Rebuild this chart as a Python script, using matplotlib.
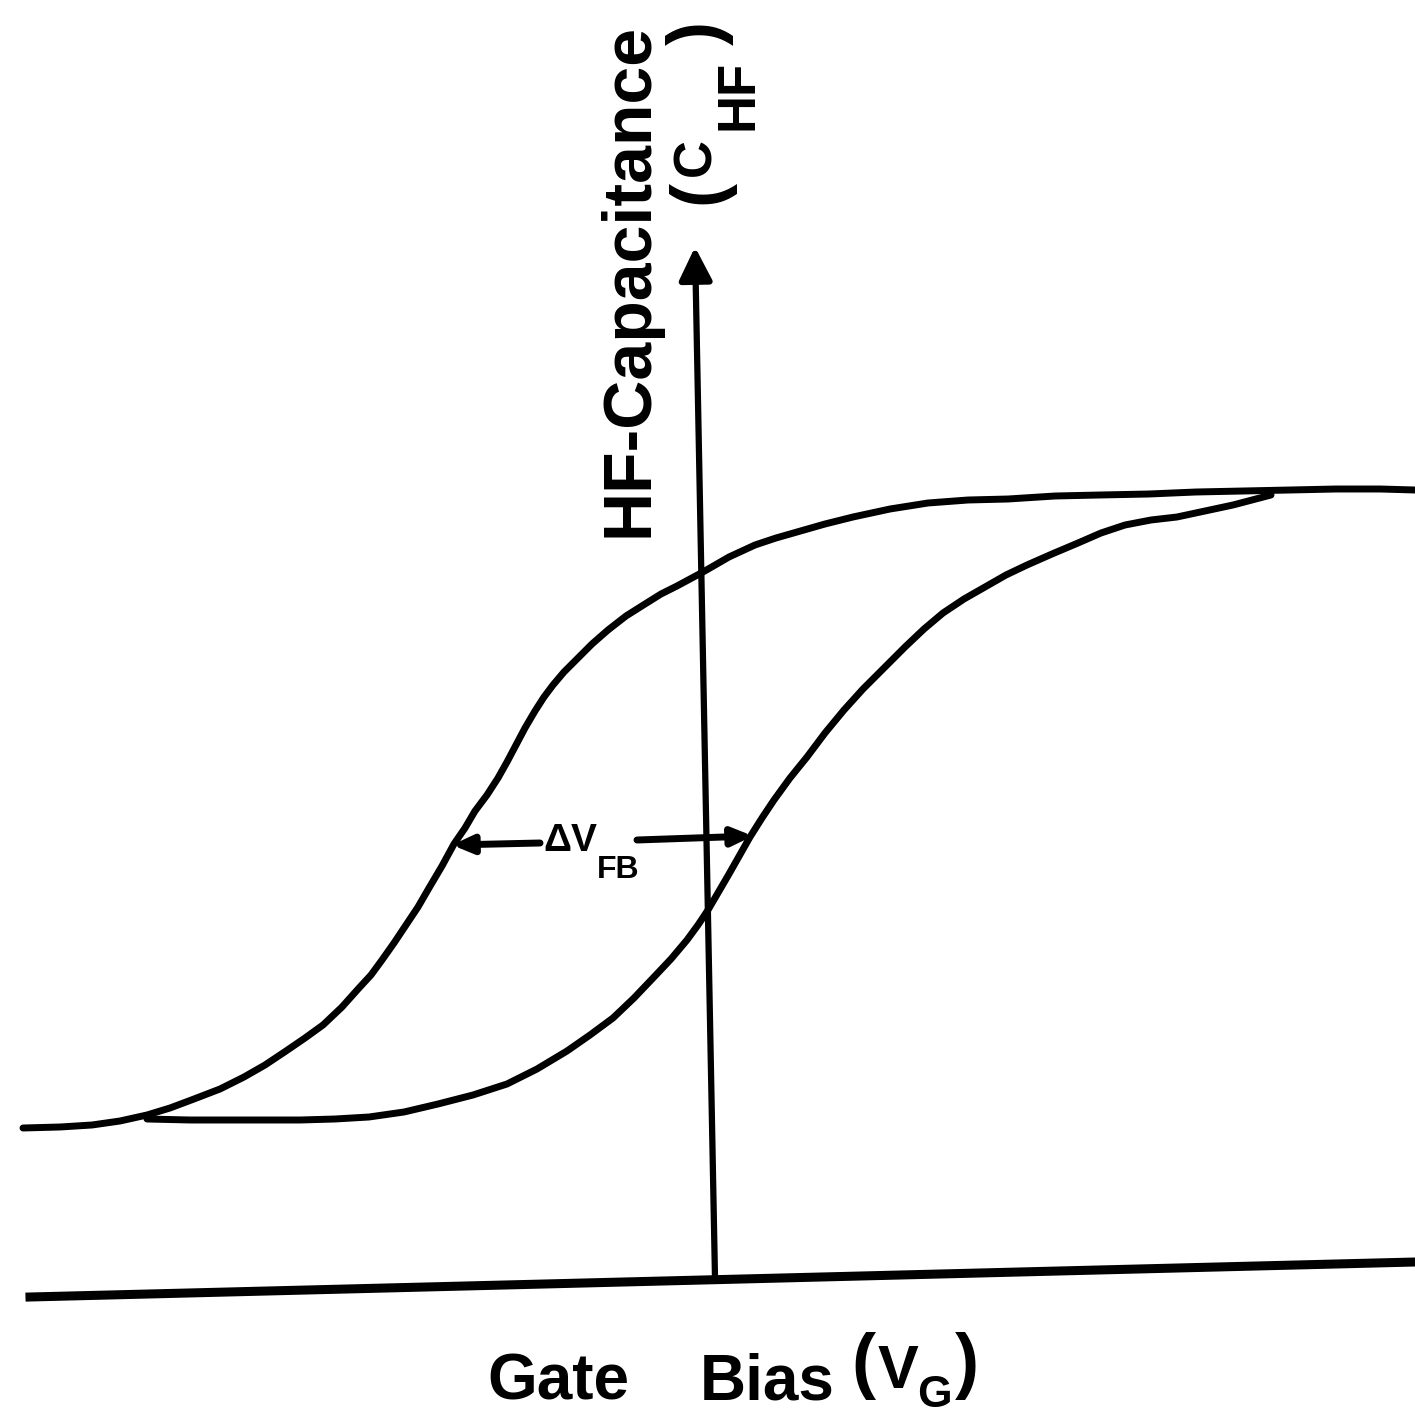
import matplotlib
matplotlib.use("Agg")
import matplotlib.pyplot as plt

# readings (arbitrary units, origin bottom-left)
forward_bias = [23, 60, 92, 120, 147, 170, 194, 220, 244, 265, 286, 305, 323, 342, 359, 371,
                382, 394, 406, 418, 429, 442, 454, 465, 475, 487, 498, 507, 516, 525, 535, 544,
                553, 564, 576, 592, 608, 626, 645, 661, 677, 690, 703, 729, 755, 776, 797, 825,
                853, 890, 928, 968, 1008, 1055, 1100, 1149, 1196, 1243, 1290, 1336, 1380, 1415]
forward_cap = [288, 289, 291, 295, 301, 308, 317, 327, 339, 351, 365, 378, 391, 409, 428, 441,
               456, 473, 491, 509, 528, 550, 572, 588, 605, 621, 638, 654, 671, 688, 705, 719,
               731, 744, 756, 772, 786, 800, 812, 822, 830, 837, 844, 859, 871, 878, 884, 892,
               899, 907, 913, 916, 917, 920, 921, 922, 924, 925, 926, 927, 927, 926]

reverse_bias = [147, 190, 230, 265, 300, 335, 369, 404, 438, 473, 507, 537, 567, 590, 613, 634,
                654, 671, 687, 698, 708, 729, 750, 762, 774, 790, 807, 825, 844, 863, 882, 905,
                924, 943, 964, 985, 1006, 1027, 1052, 1078, 1101, 1125, 1151, 1177, 1205, 1233,
                1252, 1271]
reverse_cap = [297, 296, 296, 296, 296, 297, 299, 304, 312, 321, 332, 347, 365, 381, 398, 418,
               439, 457, 476, 491, 506, 542, 579, 598, 616, 638, 659, 683, 706, 727, 746, 769,
               787, 803, 817, 829, 841, 851, 862, 873, 883, 891, 896, 899, 905, 911, 916, 921]

bias_axis_x = [30, 1415]
bias_axis_y = [119, 154]
cap_axis_x = [715, 695]
cap_axis_y = [138, 1169]

dvfb_left = [(540, 573), (452, 571)]
dvfb_right = [(637, 576), (753, 580)]

font = "Liberation Sans"

fig = plt.figure(figsize=(14.15, 14.16), dpi=100)
ax = fig.add_axes([0, 0, 1, 1])
ax.set_xlim(0, 1415)
ax.set_ylim(0, 1416)
ax.axis("off")

ax.plot(forward_bias, forward_cap, color="black", lw=5, solid_capstyle="round", solid_joinstyle="round")
ax.plot(reverse_bias, reverse_cap, color="black", lw=5, solid_capstyle="round", solid_joinstyle="round")

ax.plot(bias_axis_x, bias_axis_y, color="black", lw=6.5)
ax.annotate("", xy=(cap_axis_x[1], cap_axis_y[1]), xytext=(cap_axis_x[0], cap_axis_y[0]),
            arrowprops=dict(arrowstyle="-|>,head_length=0.5,head_width=0.25", mutation_scale=40,
                            lw=4.5, color="black", shrinkA=0, shrinkB=0))

for start, tip in [dvfb_left, dvfb_right]:
    ax.annotate("", xy=tip, xytext=start,
                arrowprops=dict(arrowstyle="-|>,head_length=0.5,head_width=0.22", mutation_scale=24,
                                lw=5, color="black", shrinkA=0, shrinkB=0))

ax.text(543, 565, "ΔV", fontsize=28, fontweight="bold", family=font, ha="left", va="baseline")
ax.text(597, 538, "FB", fontsize=23, fontweight="bold", family=font, ha="left", va="baseline")

# y label, reads bottom to top
rot = dict(rotation=90, rotation_mode="anchor", ha="left", va="baseline",
           fontweight="bold", family=font)
ax.text(648, 879, "HF-Capacitance", fontsize=49, **rot)
ax.text(719, 1212, "(", fontsize=52, **rot)
ax.text(710, 1240, "C", fontsize=38, **rot)
ax.text(753, 1286, "HF", fontsize=38, **rot)
ax.text(719, 1371, ")", fontsize=52, **rot)

# x label
flat = dict(ha="left", va="baseline", fontweight="bold", family=font)
ax.text(487, 17, "Gate", fontsize=46, **flat)
ax.text(700, 17, "Bias", fontsize=46, **flat)
ax.text(851, 31, "(", fontsize=52, **flat)
ax.text(878, 28, "V", fontsize=44, **flat)
ax.text(917, 9, "G", fontsize=32, **flat)
ax.text(955, 31, ")", fontsize=52, **flat)

fig.savefig("out.png", dpi=100, facecolor="white")
